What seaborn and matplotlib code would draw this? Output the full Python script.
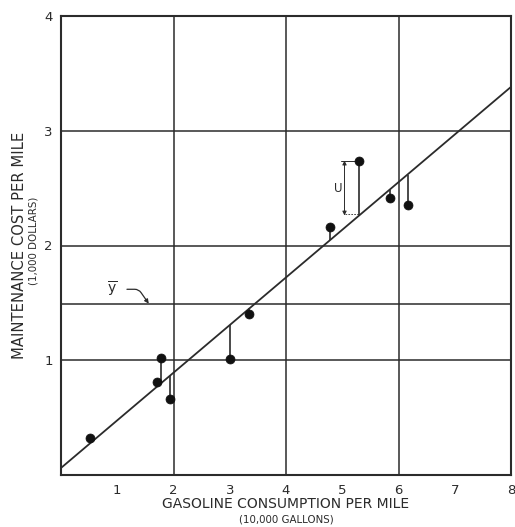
import numpy as np
import pandas as pd
import matplotlib
matplotlib.use("Agg")
import matplotlib.pyplot as plt
import seaborn as sns

# Observations: gasoline consumption (10,000 gal) vs maintenance cost (1,000 $) per mile
gasoline = [0.52, 1.78, 1.71, 1.93, 3.01, 3.35, 4.78, 5.30, 5.84, 6.16]
maintenance = [0.325, 1.02, 0.81, 0.66, 1.01, 1.40, 2.16, 2.74, 2.41, 2.35]

x_ticks = [1, 2, 3, 4, 5, 6, 7, 8]
y_ticks = [1, 2, 3, 4]
x_grid = [2, 4, 6]
y_grid = [1, 2, 3]

df = pd.DataFrame({"gasoline": gasoline, "maintenance": maintenance})

sns.set_theme(style="white")
plt.rcParams["font.family"] = ["DejaVu Sans"]

ink = "#2b2b2b"
fig = plt.figure(figsize=(5.15, 5.27), dpi=100)
ax = fig.add_axes([61 / 515, 1 - 475 / 527, 450 / 515, 459 / 527])
ax.set_xlim(0, 8)
ax.set_ylim(0, 4)

# grid of heavy rules
for gx in x_grid:
    ax.axvline(gx, color=ink, lw=1.1, zorder=1)
for gy in y_grid:
    ax.axhline(gy, color=ink, lw=1.1, zorder=1)

# mean of y
ybar = df["maintenance"].mean()
ax.axhline(ybar, color=ink, lw=1.1, zorder=1)

# least-squares line across the full range
sns.regplot(data=df, x="gasoline", y="maintenance", scatter=False, ci=None,
            truncate=False, ax=ax,
            line_kws=dict(color=ink, lw=1.3, zorder=2))

slope, intercept = np.polyfit(df["gasoline"], df["maintenance"], 1)
fitted = intercept + slope * df["gasoline"]

# residual stems
ax.vlines(df["gasoline"], fitted, df["maintenance"], color=ink, lw=1.2, zorder=3)

sns.scatterplot(data=df, x="gasoline", y="maintenance", ax=ax, s=42,
                color="#111111", edgecolor="#111111", linewidth=0.5, zorder=4,
                legend=False)

# residual "U" dimension for the largest deviation
i_u = int(np.argmax(df["maintenance"] - fitted))
xu = df["gasoline"][i_u] - 0.26
y_top = df["maintenance"][i_u]
y_bot = fitted[i_u]
ax.annotate("", xy=(xu, y_top), xytext=(xu, y_bot),
            arrowprops=dict(arrowstyle="<|-|>", color=ink, lw=0.7,
                            mutation_scale=6, shrinkA=0, shrinkB=0), zorder=3)
ax.plot([xu - 0.06, df["gasoline"][i_u]], [y_top, y_top], color=ink, lw=0.7, zorder=3)
ax.plot([xu, df["gasoline"][i_u]], [y_bot + 0.01, y_bot + 0.01], color=ink, lw=0.6,
        ls=(0, (2, 1.5)), zorder=3)
ax.text(xu - 0.11, (y_top + y_bot) / 2, "U", ha="center", va="center",
        fontsize=8.5, color=ink)

# y-bar callout
ax.annotate(r"$\overline{\mathrm{y}}$", xy=(1.56, ybar + 0.005), xytext=(0.9, ybar + 0.13),
            ha="center", va="center", fontsize=10, color=ink,
            arrowprops=dict(arrowstyle="-|>", color=ink, lw=0.9, mutation_scale=6,
                            shrinkA=5, shrinkB=0,
                            connectionstyle="angle,angleA=0,angleB=125,rad=4"))

# ticks and labels
ax.set_xticks(x_ticks)
ax.set_yticks(y_ticks)
ax.set_xticklabels([str(t) for t in x_ticks])
ax.set_yticklabels([str(t) for t in y_ticks])
ax.tick_params(axis="x", direction="in", length=9, width=1.0, color=ink,
               pad=6.5, labelsize=9.5, labelcolor=ink)
ax.tick_params(axis="y", length=0, pad=6, labelsize=9.5, labelcolor=ink)
ax.set_xlabel("")
ax.set_ylabel("")

for s in ax.spines.values():
    s.set_visible(True)
    s.set_color(ink)
    s.set_linewidth(1.5)

ax.text(0.5, -0.063, "GASOLINE CONSUMPTION PER MILE", transform=ax.transAxes,
        ha="center", va="center", fontsize=10, color=ink)
ax.text(0.5, -0.096, "(10,000 GALLONS)", transform=ax.transAxes,
        ha="center", va="center", fontsize=7.4, color=ink)
ax.text(-0.093, 0.5, "MAINTENANCE COST PER MILE", transform=ax.transAxes,
        ha="center", va="center", rotation=90, fontsize=10.6, color=ink)
ax.text(-0.062, 0.51, "(1,000 DOLLARS)", transform=ax.transAxes,
        ha="center", va="center", rotation=90, fontsize=7.4, color=ink)

fig.savefig("out.png", dpi=100, facecolor="white")
